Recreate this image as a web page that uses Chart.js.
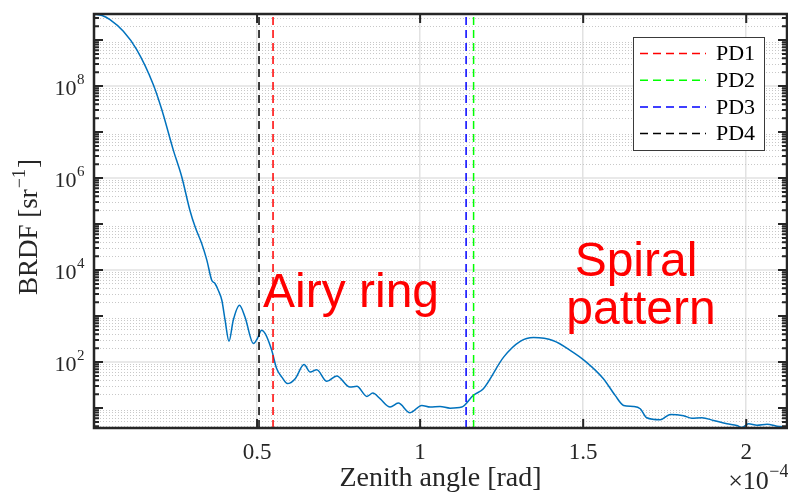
<!DOCTYPE html>
<html>
<head>
<meta charset="utf-8">
<title>BRDF vs zenith angle</title>
<script src="https://cdn.jsdelivr.net/npm/chart.js@4.4.1/dist/chart.umd.min.js"></script>
<style>
  html, body { margin: 0; padding: 0; background: #fff; }
  #wrap { position: relative; width: 788px; height: 495px; }
</style>
</head>
<body>
<div id="wrap"><canvas id="brdfChart" width="788" height="495"></canvas></div>
<script>
// zenith angle in units of 1e-4 rad
var zenithAngle = [0, 0.025, 0.049, 0.090, 0.131, 0.182, 0.208, 0.243, 0.269, 0.294,
  0.310, 0.330, 0.346, 0.361, 0.371, 0.381, 0.392, 0.402, 0.414, 0.427,
  0.446, 0.463, 0.489, 0.501, 0.514, 0.525, 0.545, 0.560, 0.576, 0.593,
  0.617, 0.644, 0.663, 0.683, 0.714, 0.744, 0.785, 0.806, 0.837, 0.855,
  0.877, 0.908, 0.933, 0.969, 1.005, 1.031, 1.061, 1.092, 1.128, 1.163,
  1.194, 1.256, 1.307, 1.348, 1.409, 1.460, 1.506, 1.562, 1.598, 1.624,
  1.654, 1.675, 1.695, 1.736, 1.767, 1.808, 1.833, 1.864, 1.900, 1.941,
  1.971, 1.987, 2.007, 2.033, 2.064, 2.094, 2.125];
// BRDF [sr^-1]
var brdf = [3.65e9, 3.4e9, 2.78e9, 1.55e9, 6.2e8, 1.07e8, 3.05e7, 4.1e6, 1.07e6, 2.0e5,
  8.7e4, 3.8e4, 1.64e4, 6.0e3, 5.1e3, 3.65e3, 2.2e3, 810, 282, 810,
  1720, 955, 252, 323, 491, 416, 180, 72, 47, 34,
  43.5, 88, 60.6, 68, 38, 50, 28.5, 29.6, 17.9, 21.1,
  16, 10.5, 12.8, 7.9, 11.4, 10.5, 10.8, 9.95, 10.5, 18.8,
  26.3, 128, 282, 340, 290, 180, 105, 43.5, 18.8, 11.4,
  10.8, 9.66, 6.15, 5.56, 7.26, 6.8, 6.03, 6.15, 5.37, 4.55,
  4.18, 3.78, 4.55, 4.24, 4.46, 4.04, 3.84];

var pdNames = ["PD1", "PD2", "PD3", "PD4"];
var pdAngles = [0.549, 1.164, 1.141, 0.506];
var pdColors = ["#ff0000", "#00ff00", "#0000ff", "#000000"];

var xTicks = [0.5, 1, 1.5, 2];
var xTickLabels = ["0.5", "1", "1.5", "2"];
var yDecades = [1e2, 1e4, 1e6, 1e8];
var yDecadeExp = ["2", "4", "6", "8"];

var X_MIN = 0, X_MAX = 2.125;
var Y_MIN = 3.68, Y_MAX = 3.68e9;

var SERIF = '"Liberation Serif", "Times New Roman", serif';
var SANS = '"Liberation Sans", Arial, sans-serif';
var INK = "#262626";

function isDecade(v) {
  var e = Math.log10(v);
  return Math.abs(e - Math.round(e)) < 1e-9;
}

// all 1..9 x 10^n positions inside the y range (minor grid + ticks)
function logTicks() {
  var out = [];
  for (var e = 0; e <= 9; e++) {
    for (var s = 1; s <= 9; s++) {
      var v = s * Math.pow(10, e);
      if (v >= Y_MIN && v <= Y_MAX) out.push({ value: v });
    }
  }
  return out;
}

// base text + raised exponent, right edge at x, baseline at y
function powerText(ctx, base, exp, x, y, size, supSize, rise) {
  ctx.font = size + "px " + SERIF;
  var wb = ctx.measureText(base).width;
  ctx.font = supSize + "px " + SERIF;
  var we = ctx.measureText(exp).width;
  var x0 = x - wb - we;
  ctx.textAlign = "left";
  ctx.textBaseline = "alphabetic";
  ctx.font = size + "px " + SERIF;
  ctx.fillText(base, x0, y);
  ctx.font = supSize + "px " + SERIF;
  ctx.fillText(exp, x0 + wb + 0.5, y - rise);
}

var frame = {
  id: "frame",
  beforeDatasetsDraw: function (chart) {
    var ctx = chart.ctx, a = chart.chartArea, ys = chart.scales.y;
    ctx.save();
    ctx.strokeStyle = "#e2e2e2";
    ctx.lineWidth = 1.5;
    yDecades.forEach(function (v) {
      var py = ys.getPixelForValue(v);
      ctx.beginPath();
      ctx.moveTo(a.left, py);
      ctx.lineTo(a.right, py);
      ctx.stroke();
    });
    ctx.restore();
  },
  afterDraw: function (chart) {
    var ctx = chart.ctx, a = chart.chartArea;
    var xs = chart.scales.x, ys = chart.scales.y;
    ctx.save();

    // inward tick marks
    ctx.strokeStyle = INK;
    ctx.lineWidth = 2;
    ys.ticks.forEach(function (t) {
      var py = ys.getPixelForValue(t.value);
      var len = isDecade(t.value) ? 9 : 5;
      ctx.beginPath();
      ctx.moveTo(a.left, py); ctx.lineTo(a.left + len, py);
      ctx.moveTo(a.right, py); ctx.lineTo(a.right - len, py);
      ctx.stroke();
    });
    xTicks.forEach(function (v) {
      var px = xs.getPixelForValue(v);
      ctx.beginPath();
      ctx.moveTo(px, a.bottom); ctx.lineTo(px, a.bottom - 9);
      ctx.moveTo(px, a.top); ctx.lineTo(px, a.top + 9);
      ctx.stroke();
    });

    // axes box
    ctx.lineWidth = 2.5;
    ctx.strokeRect(a.left, a.top, a.right - a.left, a.bottom - a.top);

    // y tick labels 10^n
    ctx.fillStyle = INK;
    yDecades.forEach(function (v, i) {
      var py = ys.getPixelForValue(v);
      powerText(ctx, "10", yDecadeExp[i], a.left - 10, py + 9, 22, 15, 11);
    });

    // y axis title
    ctx.save();
    ctx.translate(30, 227);
    ctx.rotate(-Math.PI / 2);
    ctx.font = "27px " + SERIF;
    var t1 = "BRDF [sr", t2 = "\u22121", t3 = "]";
    var w1 = ctx.measureText(t1).width, w3 = ctx.measureText(t3).width;
    ctx.font = "18px " + SERIF;
    var w2 = ctx.measureText(t2).width;
    var x0 = -(w1 + w2 + w3 + 2) / 2;
    ctx.textAlign = "left";
    ctx.textBaseline = "middle";
    ctx.font = "27px " + SERIF;
    ctx.fillText(t1, x0, 0);
    ctx.fillText(t3, x0 + w1 + w2 + 2, 0);
    ctx.font = "18px " + SERIF;
    ctx.fillText(t2, x0 + w1 + 1, -10);
    ctx.restore();

    // exponent label of x axis
    powerText(ctx, "\u00d710", "\u22124", a.right + 1, 489, 26, 18, 12);

    // legend
    var bx = a.right - 154, by = a.top + 23, bw = 131, bh = 113;
    ctx.fillStyle = "#ffffff";
    ctx.fillRect(bx, by, bw, bh);
    ctx.strokeStyle = "#3a3a3a";
    ctx.lineWidth = 1;
    ctx.strokeRect(bx + 0.5, by + 0.5, bw, bh);
    ctx.font = "22px " + SERIF;
    ctx.textAlign = "left";
    ctx.textBaseline = "middle";
    pdNames.forEach(function (name, i) {
      var ry = by + 16.5 + i * 26.7;
      ctx.strokeStyle = pdColors[i];
      ctx.lineWidth = 1.5;
      ctx.setLineDash([8, 5]);
      ctx.beginPath();
      ctx.moveTo(bx + 7, ry); ctx.lineTo(bx + 73, ry);
      ctx.stroke();
      ctx.setLineDash([]);
      ctx.fillStyle = "#000000";
      ctx.fillText(name, bx + 83, ry + 1);
    });

    // annotations
    ctx.fillStyle = "#ff0000";
    ctx.font = "48px " + SANS;
    ctx.textBaseline = "alphabetic";
    ctx.textAlign = "left";
    ctx.fillText("Airy ring", 263, 307);
    ctx.textAlign = "center";
    ctx.fillText("Spiral", 636, 276);
    ctx.fillText("pattern", 641, 324);

    ctx.restore();
  }
};

var datasets = [{
  label: "BRDF",
  data: zenithAngle.map(function (x, i) { return { x: x, y: brdf[i] }; }),
  borderColor: "#0072bd",
  borderWidth: 1.5,
  pointRadius: 0,
  cubicInterpolationMode: "monotone",
  order: 2
}];
pdNames.forEach(function (name, i) {
  datasets.push({
    label: name,
    data: [{ x: pdAngles[i], y: Y_MIN }, { x: pdAngles[i], y: Y_MAX }],
    borderColor: pdColors[i],
    borderWidth: 1.5,
    borderDash: [8, 5],
    pointRadius: 0,
    order: 1
  });
});

new Chart(document.getElementById("brdfChart").getContext("2d"), {
  type: "line",
  data: { datasets: datasets },
  options: {
    responsive: false,
    animation: false,
    layout: { padding: { top: 14, right: 1, left: 0, bottom: 0 } },
    scales: {
      x: {
        type: "linear",
        min: X_MIN,
        max: X_MAX,
        afterBuildTicks: function (scale) {
          scale.ticks = xTicks.map(function (v) { return { value: v }; });
        },
        afterFit: function (scale) {
          scale.height = 67;
          scale.paddingLeft = 0;
          scale.paddingRight = 0;
        },
        grid: { color: "#e2e2e2", lineWidth: 1.5, drawTicks: false },
        border: { display: false },
        ticks: {
          padding: 11,
          color: INK,
          font: { family: SERIF, size: 23 },
          maxRotation: 0,
          callback: function (v) {
            var i = xTicks.indexOf(v);
            return i >= 0 ? xTickLabels[i] : "";
          }
        },
        title: {
          display: true,
          text: "Zenith angle [rad]",
          color: INK,
          font: { family: SERIF, size: 28 },
          padding: { top: 0, bottom: 0 }
        }
      },
      y: {
        type: "logarithmic",
        min: Y_MIN,
        max: Y_MAX,
        afterBuildTicks: function (scale) { scale.ticks = logTicks(); },
        afterFit: function (scale) {
          scale.width = 94;
          scale.paddingTop = 0;
          scale.paddingBottom = 0;
        },
        grid: {
          drawTicks: false,
          lineWidth: 1,
          color: function (c) {
            return c.tick && isDecade(c.tick.value) ? "rgba(0,0,0,0)" : "#c8c8c8";
          }
        },
        border: { display: false, dash: [1, 2] },
        ticks: {
          autoSkip: false,
          callback: function () { return ""; }
        }
      }
    },
    plugins: {
      legend: { display: false },
      tooltip: { enabled: false }
    }
  },
  plugins: [frame]
});
</script>
</body>
</html>
